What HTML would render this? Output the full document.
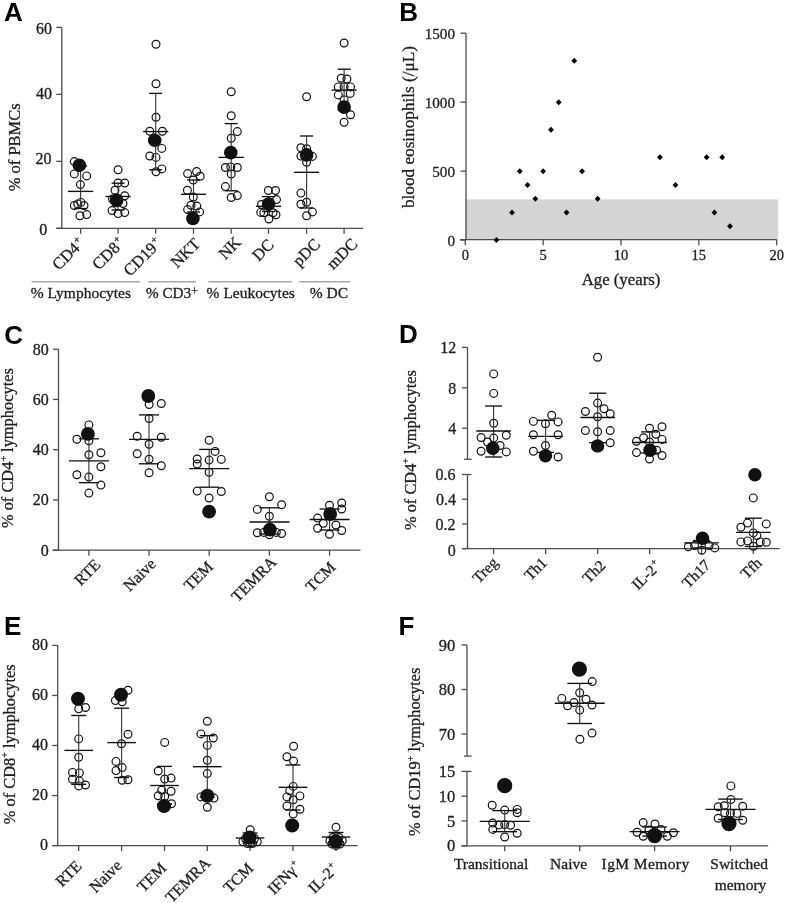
<!DOCTYPE html>
<html><head><meta charset="utf-8"><title>Figure</title>
<style>html,body{margin:0;padding:0;background:#fff;}svg{display:block;filter:blur(0.35px);}text.s{stroke:#1e1e1e;stroke-width:0.3px;}</style></head>
<body><svg width="785" height="903" viewBox="0 0 785 903">
<rect width="785" height="903" fill="#fff"/>
<text x="4.10" y="21.30" font-size="26" text-anchor="start" fill="#000" font-family='"Liberation Sans", sans-serif' font-weight="bold">A</text>
<line x1="61.80" y1="27.42" x2="61.80" y2="228.30" stroke="#4d4d4d" stroke-width="1.3"/>
<line x1="56.30" y1="27.42" x2="61.80" y2="27.42" stroke="#4d4d4d" stroke-width="1.3"/>
<text class="s" x="52.10" y="33.82" font-size="16" text-anchor="end" fill="#1e1e1e" font-family='"Liberation Serif", serif' font-weight="normal">60</text>
<line x1="56.30" y1="94.38" x2="61.80" y2="94.38" stroke="#4d4d4d" stroke-width="1.3"/>
<text class="s" x="52.10" y="99.48" font-size="16" text-anchor="end" fill="#1e1e1e" font-family='"Liberation Serif", serif' font-weight="normal">40</text>
<line x1="56.30" y1="161.34" x2="61.80" y2="161.34" stroke="#4d4d4d" stroke-width="1.3"/>
<text class="s" x="51.60" y="164.14" font-size="16" text-anchor="end" fill="#1e1e1e" font-family='"Liberation Serif", serif' font-weight="normal">20</text>
<line x1="56.30" y1="228.30" x2="61.80" y2="228.30" stroke="#4d4d4d" stroke-width="1.3"/>
<text class="s" x="47.30" y="235.20" font-size="16" text-anchor="end" fill="#1e1e1e" font-family='"Liberation Serif", serif' font-weight="normal">0</text>
<line x1="56.30" y1="228.30" x2="363.20" y2="228.30" stroke="#4d4d4d" stroke-width="1.3"/>
<line x1="80.60" y1="228.30" x2="80.60" y2="233.80" stroke="#4d4d4d" stroke-width="1.3"/>
<line x1="118.10" y1="228.30" x2="118.10" y2="233.80" stroke="#4d4d4d" stroke-width="1.3"/>
<line x1="155.70" y1="228.30" x2="155.70" y2="233.80" stroke="#4d4d4d" stroke-width="1.3"/>
<line x1="193.50" y1="228.30" x2="193.50" y2="233.80" stroke="#4d4d4d" stroke-width="1.3"/>
<line x1="231.20" y1="228.30" x2="231.20" y2="233.80" stroke="#4d4d4d" stroke-width="1.3"/>
<line x1="268.50" y1="228.30" x2="268.50" y2="233.80" stroke="#4d4d4d" stroke-width="1.3"/>
<line x1="306.60" y1="228.30" x2="306.60" y2="233.80" stroke="#4d4d4d" stroke-width="1.3"/>
<line x1="344.10" y1="228.30" x2="344.10" y2="233.80" stroke="#4d4d4d" stroke-width="1.3"/>
<text class="s" x="19.90" y="147.30" font-size="16.5" text-anchor="middle" fill="#1e1e1e" font-family='"Liberation Serif", serif' font-weight="normal" transform="rotate(-90 19.90 147.30)">% of PBMCs</text>
<circle cx="74.30" cy="161.60" r="3.9" fill="none" stroke="#111" stroke-width="1.2"/>
<circle cx="74.30" cy="173.90" r="3.9" fill="none" stroke="#111" stroke-width="1.2"/>
<circle cx="86.70" cy="175.90" r="3.9" fill="none" stroke="#111" stroke-width="1.2"/>
<circle cx="80.40" cy="184.60" r="3.9" fill="none" stroke="#111" stroke-width="1.2"/>
<circle cx="74.30" cy="205.50" r="3.9" fill="none" stroke="#111" stroke-width="1.2"/>
<circle cx="77.80" cy="203.90" r="3.9" fill="none" stroke="#111" stroke-width="1.2"/>
<circle cx="80.90" cy="202.40" r="3.9" fill="none" stroke="#111" stroke-width="1.2"/>
<circle cx="84.00" cy="205.50" r="3.9" fill="none" stroke="#111" stroke-width="1.2"/>
<circle cx="79.90" cy="215.70" r="3.9" fill="none" stroke="#111" stroke-width="1.2"/>
<circle cx="86.70" cy="214.60" r="3.9" fill="none" stroke="#111" stroke-width="1.2"/>
<line x1="80.60" y1="166.00" x2="80.60" y2="208.50" stroke="#3a3a3a" stroke-width="1.1475"/>
<line x1="74.10" y1="166.00" x2="87.10" y2="166.00" stroke="#111" stroke-width="1.35"/>
<line x1="74.10" y1="208.50" x2="87.10" y2="208.50" stroke="#111" stroke-width="1.35"/>
<line x1="68.00" y1="191.40" x2="93.20" y2="191.40" stroke="#111" stroke-width="1.35"/>
<circle cx="79.40" cy="165.20" r="6.8" fill="#111"/>
<circle cx="118.10" cy="169.80" r="3.9" fill="none" stroke="#111" stroke-width="1.2"/>
<circle cx="118.10" cy="183.00" r="3.9" fill="none" stroke="#111" stroke-width="1.2"/>
<circle cx="124.70" cy="183.00" r="3.9" fill="none" stroke="#111" stroke-width="1.2"/>
<circle cx="115.00" cy="190.20" r="3.9" fill="none" stroke="#111" stroke-width="1.2"/>
<circle cx="124.70" cy="195.80" r="3.9" fill="none" stroke="#111" stroke-width="1.2"/>
<circle cx="112.50" cy="199.00" r="3.9" fill="none" stroke="#111" stroke-width="1.2"/>
<circle cx="123.00" cy="203.50" r="3.9" fill="none" stroke="#111" stroke-width="1.2"/>
<circle cx="112.00" cy="210.60" r="3.9" fill="none" stroke="#111" stroke-width="1.2"/>
<circle cx="118.10" cy="213.60" r="3.9" fill="none" stroke="#111" stroke-width="1.2"/>
<circle cx="124.70" cy="212.60" r="3.9" fill="none" stroke="#111" stroke-width="1.2"/>
<line x1="118.10" y1="183.20" x2="118.10" y2="210.00" stroke="#3a3a3a" stroke-width="1.1475"/>
<line x1="111.60" y1="183.20" x2="124.60" y2="183.20" stroke="#111" stroke-width="1.35"/>
<line x1="111.60" y1="210.00" x2="124.60" y2="210.00" stroke="#111" stroke-width="1.35"/>
<line x1="105.50" y1="196.50" x2="130.70" y2="196.50" stroke="#111" stroke-width="1.35"/>
<circle cx="116.60" cy="200.40" r="6.8" fill="#111"/>
<circle cx="156.00" cy="44.20" r="3.9" fill="none" stroke="#111" stroke-width="1.2"/>
<circle cx="156.00" cy="83.80" r="3.9" fill="none" stroke="#111" stroke-width="1.2"/>
<circle cx="156.00" cy="117.30" r="3.9" fill="none" stroke="#111" stroke-width="1.2"/>
<circle cx="149.80" cy="131.20" r="3.9" fill="none" stroke="#111" stroke-width="1.2"/>
<circle cx="162.40" cy="131.20" r="3.9" fill="none" stroke="#111" stroke-width="1.2"/>
<circle cx="161.80" cy="148.40" r="3.9" fill="none" stroke="#111" stroke-width="1.2"/>
<circle cx="149.80" cy="156.00" r="3.9" fill="none" stroke="#111" stroke-width="1.2"/>
<circle cx="156.00" cy="157.40" r="3.9" fill="none" stroke="#111" stroke-width="1.2"/>
<circle cx="156.00" cy="171.70" r="3.9" fill="none" stroke="#111" stroke-width="1.2"/>
<circle cx="161.80" cy="168.90" r="3.9" fill="none" stroke="#111" stroke-width="1.2"/>
<line x1="155.70" y1="93.40" x2="155.70" y2="169.80" stroke="#3a3a3a" stroke-width="1.1475"/>
<line x1="149.20" y1="93.40" x2="162.20" y2="93.40" stroke="#111" stroke-width="1.35"/>
<line x1="149.20" y1="169.80" x2="162.20" y2="169.80" stroke="#111" stroke-width="1.35"/>
<line x1="143.10" y1="131.60" x2="168.30" y2="131.60" stroke="#111" stroke-width="1.35"/>
<circle cx="154.70" cy="140.20" r="6.8" fill="#111"/>
<circle cx="187.60" cy="173.60" r="3.9" fill="none" stroke="#111" stroke-width="1.2"/>
<circle cx="196.60" cy="171.50" r="3.9" fill="none" stroke="#111" stroke-width="1.2"/>
<circle cx="200.20" cy="176.20" r="3.9" fill="none" stroke="#111" stroke-width="1.2"/>
<circle cx="193.30" cy="180.10" r="3.9" fill="none" stroke="#111" stroke-width="1.2"/>
<circle cx="187.40" cy="190.20" r="3.9" fill="none" stroke="#111" stroke-width="1.2"/>
<circle cx="193.30" cy="197.00" r="3.9" fill="none" stroke="#111" stroke-width="1.2"/>
<circle cx="191.00" cy="205.20" r="3.9" fill="none" stroke="#111" stroke-width="1.2"/>
<circle cx="196.80" cy="206.10" r="3.9" fill="none" stroke="#111" stroke-width="1.2"/>
<circle cx="187.60" cy="209.60" r="3.9" fill="none" stroke="#111" stroke-width="1.2"/>
<circle cx="199.60" cy="211.90" r="3.9" fill="none" stroke="#111" stroke-width="1.2"/>
<line x1="193.50" y1="180.00" x2="193.50" y2="212.00" stroke="#3a3a3a" stroke-width="1.1475"/>
<line x1="187.00" y1="180.00" x2="200.00" y2="180.00" stroke="#111" stroke-width="1.35"/>
<line x1="187.00" y1="212.00" x2="200.00" y2="212.00" stroke="#111" stroke-width="1.35"/>
<line x1="180.90" y1="194.30" x2="206.10" y2="194.30" stroke="#111" stroke-width="1.35"/>
<circle cx="192.90" cy="218.50" r="6.8" fill="#111"/>
<circle cx="231.20" cy="91.80" r="3.9" fill="none" stroke="#111" stroke-width="1.2"/>
<circle cx="231.20" cy="115.70" r="3.9" fill="none" stroke="#111" stroke-width="1.2"/>
<circle cx="237.30" cy="131.60" r="3.9" fill="none" stroke="#111" stroke-width="1.2"/>
<circle cx="231.20" cy="138.30" r="3.9" fill="none" stroke="#111" stroke-width="1.2"/>
<circle cx="225.40" cy="167.50" r="3.9" fill="none" stroke="#111" stroke-width="1.2"/>
<circle cx="230.80" cy="166.90" r="3.9" fill="none" stroke="#111" stroke-width="1.2"/>
<circle cx="237.30" cy="167.50" r="3.9" fill="none" stroke="#111" stroke-width="1.2"/>
<circle cx="231.20" cy="174.00" r="3.9" fill="none" stroke="#111" stroke-width="1.2"/>
<circle cx="225.40" cy="186.60" r="3.9" fill="none" stroke="#111" stroke-width="1.2"/>
<circle cx="231.20" cy="197.50" r="3.9" fill="none" stroke="#111" stroke-width="1.2"/>
<circle cx="237.30" cy="195.60" r="3.9" fill="none" stroke="#111" stroke-width="1.2"/>
<line x1="231.20" y1="123.60" x2="231.20" y2="190.80" stroke="#3a3a3a" stroke-width="1.1475"/>
<line x1="224.70" y1="123.60" x2="237.70" y2="123.60" stroke="#111" stroke-width="1.35"/>
<line x1="224.70" y1="190.80" x2="237.70" y2="190.80" stroke="#111" stroke-width="1.35"/>
<line x1="218.60" y1="157.40" x2="243.80" y2="157.40" stroke="#111" stroke-width="1.35"/>
<circle cx="230.80" cy="152.60" r="6.8" fill="#111"/>
<circle cx="268.40" cy="190.50" r="3.9" fill="none" stroke="#111" stroke-width="1.2"/>
<circle cx="275.50" cy="190.50" r="3.9" fill="none" stroke="#111" stroke-width="1.2"/>
<circle cx="276.50" cy="199.60" r="3.9" fill="none" stroke="#111" stroke-width="1.2"/>
<circle cx="261.50" cy="204.50" r="3.9" fill="none" stroke="#111" stroke-width="1.2"/>
<circle cx="260.70" cy="212.40" r="3.9" fill="none" stroke="#111" stroke-width="1.2"/>
<circle cx="263.80" cy="212.70" r="3.9" fill="none" stroke="#111" stroke-width="1.2"/>
<circle cx="273.00" cy="212.70" r="3.9" fill="none" stroke="#111" stroke-width="1.2"/>
<circle cx="276.00" cy="214.70" r="3.9" fill="none" stroke="#111" stroke-width="1.2"/>
<circle cx="268.90" cy="219.00" r="3.9" fill="none" stroke="#111" stroke-width="1.2"/>
<line x1="268.50" y1="196.60" x2="268.50" y2="211.50" stroke="#3a3a3a" stroke-width="1.1475"/>
<line x1="262.00" y1="196.60" x2="275.00" y2="196.60" stroke="#111" stroke-width="1.35"/>
<line x1="262.00" y1="211.50" x2="275.00" y2="211.50" stroke="#111" stroke-width="1.35"/>
<line x1="255.90" y1="206.30" x2="281.10" y2="206.30" stroke="#111" stroke-width="1.35"/>
<circle cx="268.60" cy="204.00" r="6.8" fill="#111"/>
<circle cx="306.60" cy="96.80" r="3.9" fill="none" stroke="#111" stroke-width="1.2"/>
<circle cx="300.90" cy="147.80" r="3.9" fill="none" stroke="#111" stroke-width="1.2"/>
<circle cx="306.60" cy="148.80" r="3.9" fill="none" stroke="#111" stroke-width="1.2"/>
<circle cx="300.90" cy="156.10" r="3.9" fill="none" stroke="#111" stroke-width="1.2"/>
<circle cx="312.40" cy="156.40" r="3.9" fill="none" stroke="#111" stroke-width="1.2"/>
<circle cx="306.60" cy="162.20" r="3.9" fill="none" stroke="#111" stroke-width="1.2"/>
<circle cx="300.90" cy="193.10" r="3.9" fill="none" stroke="#111" stroke-width="1.2"/>
<circle cx="306.60" cy="202.30" r="3.9" fill="none" stroke="#111" stroke-width="1.2"/>
<circle cx="300.90" cy="204.20" r="3.9" fill="none" stroke="#111" stroke-width="1.2"/>
<circle cx="306.60" cy="215.70" r="3.9" fill="none" stroke="#111" stroke-width="1.2"/>
<circle cx="312.40" cy="211.90" r="3.9" fill="none" stroke="#111" stroke-width="1.2"/>
<line x1="306.60" y1="136.00" x2="306.60" y2="208.00" stroke="#3a3a3a" stroke-width="1.1475"/>
<line x1="300.10" y1="136.00" x2="313.10" y2="136.00" stroke="#111" stroke-width="1.35"/>
<line x1="300.10" y1="208.00" x2="313.10" y2="208.00" stroke="#111" stroke-width="1.35"/>
<line x1="294.00" y1="172.30" x2="319.20" y2="172.30" stroke="#111" stroke-width="1.35"/>
<circle cx="306.60" cy="154.90" r="6.8" fill="#111"/>
<circle cx="344.10" cy="43.00" r="3.9" fill="none" stroke="#111" stroke-width="1.2"/>
<circle cx="341.20" cy="78.30" r="3.9" fill="none" stroke="#111" stroke-width="1.2"/>
<circle cx="346.90" cy="79.00" r="3.9" fill="none" stroke="#111" stroke-width="1.2"/>
<circle cx="338.30" cy="86.90" r="3.9" fill="none" stroke="#111" stroke-width="1.2"/>
<circle cx="344.10" cy="86.90" r="3.9" fill="none" stroke="#111" stroke-width="1.2"/>
<circle cx="350.50" cy="86.90" r="3.9" fill="none" stroke="#111" stroke-width="1.2"/>
<circle cx="338.30" cy="94.90" r="3.9" fill="none" stroke="#111" stroke-width="1.2"/>
<circle cx="350.20" cy="93.40" r="3.9" fill="none" stroke="#111" stroke-width="1.2"/>
<circle cx="344.10" cy="99.90" r="3.9" fill="none" stroke="#111" stroke-width="1.2"/>
<circle cx="350.50" cy="114.70" r="3.9" fill="none" stroke="#111" stroke-width="1.2"/>
<circle cx="344.10" cy="122.20" r="3.9" fill="none" stroke="#111" stroke-width="1.2"/>
<line x1="344.10" y1="69.20" x2="344.10" y2="110.00" stroke="#3a3a3a" stroke-width="1.1475"/>
<line x1="337.60" y1="69.20" x2="350.60" y2="69.20" stroke="#111" stroke-width="1.35"/>
<line x1="337.60" y1="110.00" x2="350.60" y2="110.00" stroke="#111" stroke-width="1.35"/>
<line x1="331.50" y1="90.10" x2="356.70" y2="90.10" stroke="#111" stroke-width="1.35"/>
<circle cx="344.10" cy="107.10" r="6.8" fill="#111"/>
<g transform="translate(85.45,244.30)"><text class="s" x="0" y="0" font-size="16.5" text-anchor="end" fill="#1e1e1e" font-family='"Liberation Serif", serif' transform="rotate(-45)">CD4<tspan font-size="10.2" dx="1.0" dy="-6.3">+</tspan></text></g>
<g transform="translate(125.55,243.90)"><text class="s" x="0" y="0" font-size="16.5" text-anchor="end" fill="#1e1e1e" font-family='"Liberation Serif", serif' transform="rotate(-45)">CD8<tspan font-size="10.2" dx="1.0" dy="-6.3">+</tspan></text></g>
<g transform="translate(162.65,244.35)"><text class="s" x="0" y="0" font-size="16.5" text-anchor="end" fill="#1e1e1e" font-family='"Liberation Serif", serif' transform="rotate(-45)">CD19<tspan font-size="10.2" dx="1.0" dy="-6.3">+</tspan></text></g>
<g transform="translate(201.15,244.75)"><text class="s" x="0" y="0" font-size="16.5" text-anchor="end" fill="#1e1e1e" font-family='"Liberation Serif", serif' transform="rotate(-45)">NKT</text></g>
<g transform="translate(242.05,243.30)"><text class="s" x="0" y="0" font-size="16.5" text-anchor="end" fill="#1e1e1e" font-family='"Liberation Serif", serif' transform="rotate(-45)">NK</text></g>
<g transform="translate(274.90,245.70)"><text class="s" x="0" y="0" font-size="16.5" text-anchor="end" fill="#1e1e1e" font-family='"Liberation Serif", serif' transform="rotate(-45)">DC</text></g>
<g transform="translate(321.25,245.15)"><text class="s" x="0" y="0" font-size="16.5" text-anchor="end" fill="#1e1e1e" font-family='"Liberation Serif", serif' transform="rotate(-45)">pDC</text></g>
<g transform="translate(358.55,244.90)"><text class="s" x="0" y="0" font-size="16.5" text-anchor="end" fill="#1e1e1e" font-family='"Liberation Serif", serif' transform="rotate(-45)">mDC</text></g>
<line x1="31.50" y1="281.80" x2="139.70" y2="281.80" stroke="#a8a8a8" stroke-width="1.4"/>
<line x1="148.20" y1="281.80" x2="195.80" y2="281.80" stroke="#a8a8a8" stroke-width="1.4"/>
<line x1="208.30" y1="281.80" x2="291.90" y2="281.80" stroke="#a8a8a8" stroke-width="1.4"/>
<line x1="299.00" y1="281.80" x2="350.50" y2="281.80" stroke="#a8a8a8" stroke-width="1.4"/>
<text class="s" x="30.7" y="297.5" font-size="15.5" fill="#1e1e1e" font-family='"Liberation Serif", serif'>% Lymphocytes</text>
<text class="s" x="146.0" y="297.5" font-size="15.2" fill="#1e1e1e" font-family='"Liberation Serif", serif'>% CD3<tspan font-size="11.5" dy="-3">+</tspan></text>
<text class="s" x="206.6" y="297.5" font-size="15.5" fill="#1e1e1e" font-family='"Liberation Serif", serif'>% Leukocytes</text>
<text class="s" x="309.7" y="297.5" font-size="15.5" fill="#1e1e1e" font-family='"Liberation Serif", serif'>% DC</text>
<text x="399.20" y="21.30" font-size="26" text-anchor="start" fill="#000" font-family='"Liberation Sans", sans-serif' font-weight="bold">B</text>
<rect x="465.30" y="199.4" width="312.90" height="40.30" fill="#d4d4d4"/>
<line x1="466.00" y1="33.21" x2="466.00" y2="240.10" stroke="#4d4d4d" stroke-width="1.3"/>
<line x1="460.50" y1="33.21" x2="466.00" y2="33.21" stroke="#4d4d4d" stroke-width="1.3"/>
<text class="s" x="455.00" y="38.61" font-size="15.2" text-anchor="end" fill="#1e1e1e" font-family='"Liberation Serif", serif' font-weight="normal">1500</text>
<line x1="460.50" y1="102.17" x2="466.00" y2="102.17" stroke="#4d4d4d" stroke-width="1.3"/>
<text class="s" x="455.00" y="107.57" font-size="15.2" text-anchor="end" fill="#1e1e1e" font-family='"Liberation Serif", serif' font-weight="normal">1000</text>
<line x1="460.50" y1="171.13" x2="466.00" y2="171.13" stroke="#4d4d4d" stroke-width="1.3"/>
<text class="s" x="455.00" y="176.53" font-size="15.2" text-anchor="end" fill="#1e1e1e" font-family='"Liberation Serif", serif' font-weight="normal">500</text>
<line x1="460.50" y1="240.10" x2="466.00" y2="240.10" stroke="#4d4d4d" stroke-width="1.3"/>
<text class="s" x="455.00" y="245.50" font-size="15.2" text-anchor="end" fill="#1e1e1e" font-family='"Liberation Serif", serif' font-weight="normal">0</text>
<line x1="460.00" y1="239.70" x2="776.70" y2="239.70" stroke="#4d4d4d" stroke-width="1.3"/>
<line x1="465.30" y1="239.70" x2="465.30" y2="245.20" stroke="#4d4d4d" stroke-width="1.3"/>
<line x1="543.15" y1="239.70" x2="543.15" y2="245.20" stroke="#4d4d4d" stroke-width="1.3"/>
<line x1="621.00" y1="239.70" x2="621.00" y2="245.20" stroke="#4d4d4d" stroke-width="1.3"/>
<line x1="698.85" y1="239.70" x2="698.85" y2="245.20" stroke="#4d4d4d" stroke-width="1.3"/>
<line x1="776.70" y1="239.70" x2="776.70" y2="245.20" stroke="#4d4d4d" stroke-width="1.3"/>
<text class="s" x="465.30" y="260.20" font-size="14.5" text-anchor="middle" fill="#1e1e1e" font-family='"Liberation Serif", serif' font-weight="normal">0</text>
<text class="s" x="543.15" y="260.20" font-size="14.5" text-anchor="middle" fill="#1e1e1e" font-family='"Liberation Serif", serif' font-weight="normal">5</text>
<text class="s" x="621.00" y="260.20" font-size="14.5" text-anchor="middle" fill="#1e1e1e" font-family='"Liberation Serif", serif' font-weight="normal">10</text>
<text class="s" x="698.85" y="260.20" font-size="14.5" text-anchor="middle" fill="#1e1e1e" font-family='"Liberation Serif", serif' font-weight="normal">15</text>
<text class="s" x="776.70" y="260.20" font-size="14.5" text-anchor="middle" fill="#1e1e1e" font-family='"Liberation Serif", serif' font-weight="normal">20</text>
<text class="s" x="621.00" y="284.50" font-size="16.8" text-anchor="middle" fill="#1e1e1e" font-family='"Liberation Serif", serif' font-weight="normal">Age (years)</text>
<text class="s" x="413.50" y="127.00" font-size="17.2" text-anchor="middle" fill="#1e1e1e" font-family='"Liberation Serif", serif' font-weight="normal" transform="rotate(-90 413.50 127.00)">blood eosinophils (/&#956;L)</text>
<path d="M496.44 237.10L499.34 240.10L496.44 243.10L493.54 240.10Z" fill="#000"/>
<path d="M512.01 209.51L514.91 212.51L512.01 215.51L509.11 212.51Z" fill="#000"/>
<path d="M519.80 168.13L522.70 171.13L519.80 174.13L516.90 171.13Z" fill="#000"/>
<path d="M527.58 181.93L530.48 184.93L527.58 187.93L524.68 184.93Z" fill="#000"/>
<path d="M535.37 195.72L538.26 198.72L535.37 201.72L532.47 198.72Z" fill="#000"/>
<path d="M543.15 168.13L546.05 171.13L543.15 174.13L540.25 171.13Z" fill="#000"/>
<path d="M550.94 126.76L553.84 129.76L550.94 132.76L548.04 129.76Z" fill="#000"/>
<path d="M558.72 99.17L561.62 102.17L558.72 105.17L555.82 102.17Z" fill="#000"/>
<path d="M566.50 209.51L569.40 212.51L566.50 215.51L563.61 212.51Z" fill="#000"/>
<path d="M574.29 57.79L577.19 60.79L574.29 63.79L571.39 60.79Z" fill="#000"/>
<path d="M582.08 168.13L584.98 171.13L582.08 174.13L579.18 171.13Z" fill="#000"/>
<path d="M597.64 195.72L600.54 198.72L597.64 201.72L594.75 198.72Z" fill="#000"/>
<path d="M659.92 154.34L662.82 157.34L659.92 160.34L657.02 157.34Z" fill="#000"/>
<path d="M675.50 181.93L678.39 184.93L675.50 187.93L672.60 184.93Z" fill="#000"/>
<path d="M706.63 154.34L709.53 157.34L706.63 160.34L703.74 157.34Z" fill="#000"/>
<path d="M714.42 209.51L717.32 212.51L714.42 215.51L711.52 212.51Z" fill="#000"/>
<path d="M722.21 154.34L725.11 157.34L722.21 160.34L719.31 157.34Z" fill="#000"/>
<path d="M729.99 223.31L732.89 226.31L729.99 229.31L727.09 226.31Z" fill="#000"/>
<text x="4.30" y="344.00" font-size="26" text-anchor="start" fill="#000" font-family='"Liberation Sans", sans-serif' font-weight="bold">C</text>
<line x1="58.50" y1="349.20" x2="58.50" y2="550.20" stroke="#4d4d4d" stroke-width="1.3"/>
<line x1="53.00" y1="349.20" x2="58.50" y2="349.20" stroke="#4d4d4d" stroke-width="1.3"/>
<text class="s" x="48.80" y="354.60" font-size="16" text-anchor="end" fill="#1e1e1e" font-family='"Liberation Serif", serif' font-weight="normal">80</text>
<line x1="53.00" y1="399.45" x2="58.50" y2="399.45" stroke="#4d4d4d" stroke-width="1.3"/>
<text class="s" x="48.80" y="404.85" font-size="16" text-anchor="end" fill="#1e1e1e" font-family='"Liberation Serif", serif' font-weight="normal">60</text>
<line x1="53.00" y1="449.70" x2="58.50" y2="449.70" stroke="#4d4d4d" stroke-width="1.3"/>
<text class="s" x="48.80" y="455.10" font-size="16" text-anchor="end" fill="#1e1e1e" font-family='"Liberation Serif", serif' font-weight="normal">40</text>
<line x1="53.00" y1="499.95" x2="58.50" y2="499.95" stroke="#4d4d4d" stroke-width="1.3"/>
<text class="s" x="48.80" y="505.35" font-size="16" text-anchor="end" fill="#1e1e1e" font-family='"Liberation Serif", serif' font-weight="normal">20</text>
<line x1="53.00" y1="550.20" x2="58.50" y2="550.20" stroke="#4d4d4d" stroke-width="1.3"/>
<text class="s" x="48.80" y="555.60" font-size="16" text-anchor="end" fill="#1e1e1e" font-family='"Liberation Serif", serif' font-weight="normal">0</text>
<line x1="52.80" y1="550.20" x2="360.50" y2="550.20" stroke="#4d4d4d" stroke-width="1.3"/>
<line x1="88.90" y1="550.20" x2="88.90" y2="555.70" stroke="#4d4d4d" stroke-width="1.3"/>
<line x1="149.00" y1="550.20" x2="149.00" y2="555.70" stroke="#4d4d4d" stroke-width="1.3"/>
<line x1="209.20" y1="550.20" x2="209.20" y2="555.70" stroke="#4d4d4d" stroke-width="1.3"/>
<line x1="269.40" y1="550.20" x2="269.40" y2="555.70" stroke="#4d4d4d" stroke-width="1.3"/>
<line x1="329.60" y1="550.20" x2="329.60" y2="555.70" stroke="#4d4d4d" stroke-width="1.3"/>
<text class="s" x="13.30" y="448.10" font-size="16.4" text-anchor="middle" fill="#1e1e1e" font-family='"Liberation Serif", serif' transform="rotate(-90 13.30 448.10)">% of CD4<tspan font-size="10" dy="-6.5">+</tspan><tspan dy="6.5"> lymphocytes</tspan></text>
<circle cx="88.90" cy="424.90" r="3.9" fill="none" stroke="#111" stroke-width="1.2"/>
<circle cx="76.90" cy="439.20" r="3.9" fill="none" stroke="#111" stroke-width="1.2"/>
<circle cx="88.90" cy="440.80" r="3.9" fill="none" stroke="#111" stroke-width="1.2"/>
<circle cx="88.90" cy="454.80" r="3.9" fill="none" stroke="#111" stroke-width="1.2"/>
<circle cx="100.90" cy="452.80" r="3.9" fill="none" stroke="#111" stroke-width="1.2"/>
<circle cx="100.90" cy="466.80" r="3.9" fill="none" stroke="#111" stroke-width="1.2"/>
<circle cx="76.90" cy="474.80" r="3.9" fill="none" stroke="#111" stroke-width="1.2"/>
<circle cx="88.90" cy="477.10" r="3.9" fill="none" stroke="#111" stroke-width="1.2"/>
<circle cx="100.90" cy="485.10" r="3.9" fill="none" stroke="#111" stroke-width="1.2"/>
<circle cx="88.90" cy="493.10" r="3.9" fill="none" stroke="#111" stroke-width="1.2"/>
<line x1="88.90" y1="438.80" x2="88.90" y2="482.70" stroke="#3a3a3a" stroke-width="1.1475"/>
<line x1="78.90" y1="438.80" x2="98.90" y2="438.80" stroke="#111" stroke-width="1.35"/>
<line x1="78.90" y1="482.70" x2="98.90" y2="482.70" stroke="#111" stroke-width="1.35"/>
<line x1="68.90" y1="460.80" x2="108.90" y2="460.80" stroke="#111" stroke-width="1.35"/>
<circle cx="87.90" cy="433.90" r="6.9" fill="#111"/>
<circle cx="149.10" cy="404.50" r="3.9" fill="none" stroke="#111" stroke-width="1.2"/>
<circle cx="161.30" cy="403.50" r="3.9" fill="none" stroke="#111" stroke-width="1.2"/>
<circle cx="149.10" cy="418.50" r="3.9" fill="none" stroke="#111" stroke-width="1.2"/>
<circle cx="137.20" cy="436.30" r="3.9" fill="none" stroke="#111" stroke-width="1.2"/>
<circle cx="161.30" cy="437.30" r="3.9" fill="none" stroke="#111" stroke-width="1.2"/>
<circle cx="149.10" cy="444.20" r="3.9" fill="none" stroke="#111" stroke-width="1.2"/>
<circle cx="137.20" cy="453.80" r="3.9" fill="none" stroke="#111" stroke-width="1.2"/>
<circle cx="149.10" cy="459.20" r="3.9" fill="none" stroke="#111" stroke-width="1.2"/>
<circle cx="161.30" cy="465.80" r="3.9" fill="none" stroke="#111" stroke-width="1.2"/>
<circle cx="149.10" cy="472.80" r="3.9" fill="none" stroke="#111" stroke-width="1.2"/>
<line x1="149.00" y1="414.90" x2="149.00" y2="463.80" stroke="#3a3a3a" stroke-width="1.1475"/>
<line x1="139.00" y1="414.90" x2="159.00" y2="414.90" stroke="#111" stroke-width="1.35"/>
<line x1="139.00" y1="463.80" x2="159.00" y2="463.80" stroke="#111" stroke-width="1.35"/>
<line x1="129.00" y1="439.40" x2="169.00" y2="439.40" stroke="#111" stroke-width="1.35"/>
<circle cx="148.30" cy="396.00" r="6.9" fill="#111"/>
<circle cx="209.10" cy="440.20" r="3.9" fill="none" stroke="#111" stroke-width="1.2"/>
<circle cx="215.10" cy="451.40" r="3.9" fill="none" stroke="#111" stroke-width="1.2"/>
<circle cx="197.20" cy="459.00" r="3.9" fill="none" stroke="#111" stroke-width="1.2"/>
<circle cx="209.10" cy="460.10" r="3.9" fill="none" stroke="#111" stroke-width="1.2"/>
<circle cx="221.30" cy="459.40" r="3.9" fill="none" stroke="#111" stroke-width="1.2"/>
<circle cx="197.20" cy="464.00" r="3.9" fill="none" stroke="#111" stroke-width="1.2"/>
<circle cx="209.10" cy="472.30" r="3.9" fill="none" stroke="#111" stroke-width="1.2"/>
<circle cx="197.20" cy="491.10" r="3.9" fill="none" stroke="#111" stroke-width="1.2"/>
<circle cx="221.30" cy="491.50" r="3.9" fill="none" stroke="#111" stroke-width="1.2"/>
<circle cx="209.10" cy="498.00" r="3.9" fill="none" stroke="#111" stroke-width="1.2"/>
<line x1="209.20" y1="449.40" x2="209.20" y2="487.20" stroke="#3a3a3a" stroke-width="1.1475"/>
<line x1="199.20" y1="449.40" x2="219.20" y2="449.40" stroke="#111" stroke-width="1.35"/>
<line x1="199.20" y1="487.20" x2="219.20" y2="487.20" stroke="#111" stroke-width="1.35"/>
<line x1="189.20" y1="468.60" x2="229.20" y2="468.60" stroke="#111" stroke-width="1.35"/>
<circle cx="209.10" cy="511.70" r="6.9" fill="#111"/>
<circle cx="269.40" cy="496.80" r="3.9" fill="none" stroke="#111" stroke-width="1.2"/>
<circle cx="257.30" cy="509.40" r="3.9" fill="none" stroke="#111" stroke-width="1.2"/>
<circle cx="281.60" cy="504.80" r="3.9" fill="none" stroke="#111" stroke-width="1.2"/>
<circle cx="269.40" cy="516.30" r="3.9" fill="none" stroke="#111" stroke-width="1.2"/>
<circle cx="257.30" cy="532.80" r="3.9" fill="none" stroke="#111" stroke-width="1.2"/>
<circle cx="263.70" cy="532.40" r="3.9" fill="none" stroke="#111" stroke-width="1.2"/>
<circle cx="276.30" cy="532.40" r="3.9" fill="none" stroke="#111" stroke-width="1.2"/>
<circle cx="281.60" cy="533.50" r="3.9" fill="none" stroke="#111" stroke-width="1.2"/>
<circle cx="269.40" cy="534.70" r="3.9" fill="none" stroke="#111" stroke-width="1.2"/>
<line x1="269.40" y1="507.80" x2="269.40" y2="534.00" stroke="#3a3a3a" stroke-width="1.1475"/>
<line x1="259.40" y1="507.80" x2="279.40" y2="507.80" stroke="#111" stroke-width="1.35"/>
<line x1="259.40" y1="534.00" x2="279.40" y2="534.00" stroke="#111" stroke-width="1.35"/>
<line x1="249.40" y1="522.00" x2="289.40" y2="522.00" stroke="#111" stroke-width="1.35"/>
<circle cx="269.90" cy="529.60" r="6.9" fill="#111"/>
<circle cx="329.50" cy="505.30" r="3.9" fill="none" stroke="#111" stroke-width="1.2"/>
<circle cx="341.70" cy="503.00" r="3.9" fill="none" stroke="#111" stroke-width="1.2"/>
<circle cx="341.70" cy="509.00" r="3.9" fill="none" stroke="#111" stroke-width="1.2"/>
<circle cx="317.60" cy="518.10" r="3.9" fill="none" stroke="#111" stroke-width="1.2"/>
<circle cx="323.30" cy="523.20" r="3.9" fill="none" stroke="#111" stroke-width="1.2"/>
<circle cx="335.90" cy="525.00" r="3.9" fill="none" stroke="#111" stroke-width="1.2"/>
<circle cx="317.60" cy="528.20" r="3.9" fill="none" stroke="#111" stroke-width="1.2"/>
<circle cx="341.70" cy="530.50" r="3.9" fill="none" stroke="#111" stroke-width="1.2"/>
<circle cx="329.50" cy="534.20" r="3.9" fill="none" stroke="#111" stroke-width="1.2"/>
<line x1="329.60" y1="509.00" x2="329.60" y2="530.00" stroke="#3a3a3a" stroke-width="1.1475"/>
<line x1="319.60" y1="509.00" x2="339.60" y2="509.00" stroke="#111" stroke-width="1.35"/>
<line x1="319.60" y1="530.00" x2="339.60" y2="530.00" stroke="#111" stroke-width="1.35"/>
<line x1="309.60" y1="519.50" x2="349.60" y2="519.50" stroke="#111" stroke-width="1.35"/>
<circle cx="330.20" cy="514.00" r="6.9" fill="#111"/>
<g transform="translate(101.50,565.70)"><text class="s" x="0" y="0" font-size="16" text-anchor="end" fill="#1e1e1e" font-family='"Liberation Serif", serif' transform="rotate(-45)">RTE</text></g>
<g transform="translate(156.75,564.90)"><text class="s" x="0" y="0" font-size="16" text-anchor="end" fill="#1e1e1e" font-family='"Liberation Serif", serif' transform="rotate(-45)">Naive</text></g>
<g transform="translate(214.10,567.65)"><text class="s" x="0" y="0" font-size="16" text-anchor="end" fill="#1e1e1e" font-family='"Liberation Serif", serif' transform="rotate(-45)">TEM</text></g>
<g transform="translate(277.35,563.15)"><text class="s" x="0" y="0" font-size="16" text-anchor="end" fill="#1e1e1e" font-family='"Liberation Serif", serif' transform="rotate(-45)">TEMRA</text></g>
<g transform="translate(336.50,568.15)"><text class="s" x="0" y="0" font-size="16" text-anchor="end" fill="#1e1e1e" font-family='"Liberation Serif", serif' transform="rotate(-45)">TCM</text></g>
<text x="398.90" y="343.20" font-size="26" text-anchor="start" fill="#000" font-family='"Liberation Sans", sans-serif' font-weight="bold">D</text>
<line x1="467.50" y1="347.40" x2="467.50" y2="459.30" stroke="#4d4d4d" stroke-width="1.3"/>
<line x1="462.00" y1="347.40" x2="467.50" y2="347.40" stroke="#4d4d4d" stroke-width="1.3"/>
<text class="s" x="456.20" y="353.40" font-size="16" text-anchor="end" fill="#1e1e1e" font-family='"Liberation Serif", serif' font-weight="normal">12</text>
<line x1="462.00" y1="387.80" x2="467.50" y2="387.80" stroke="#4d4d4d" stroke-width="1.3"/>
<text class="s" x="456.20" y="393.80" font-size="16" text-anchor="end" fill="#1e1e1e" font-family='"Liberation Serif", serif' font-weight="normal">8</text>
<line x1="462.00" y1="428.20" x2="467.50" y2="428.20" stroke="#4d4d4d" stroke-width="1.3"/>
<text class="s" x="456.20" y="434.20" font-size="16" text-anchor="end" fill="#1e1e1e" font-family='"Liberation Serif", serif' font-weight="normal">4</text>
<line x1="464.10" y1="459.30" x2="471.70" y2="459.30" stroke="#4d4d4d" stroke-width="1.3"/>
<line x1="467.50" y1="474.50" x2="467.50" y2="548.60" stroke="#4d4d4d" stroke-width="1.3"/>
<line x1="462.00" y1="474.50" x2="467.50" y2="474.50" stroke="#4d4d4d" stroke-width="1.3"/>
<text class="s" x="455.50" y="480.10" font-size="16" text-anchor="end" fill="#1e1e1e" font-family='"Liberation Serif", serif' font-weight="normal">0.6</text>
<line x1="462.00" y1="499.20" x2="467.50" y2="499.20" stroke="#4d4d4d" stroke-width="1.3"/>
<text class="s" x="456.00" y="504.80" font-size="16" text-anchor="end" fill="#1e1e1e" font-family='"Liberation Serif", serif' font-weight="normal">0.4</text>
<line x1="462.00" y1="523.90" x2="467.50" y2="523.90" stroke="#4d4d4d" stroke-width="1.3"/>
<text class="s" x="455.50" y="529.80" font-size="16" text-anchor="end" fill="#1e1e1e" font-family='"Liberation Serif", serif' font-weight="normal">0.2</text>
<line x1="462.00" y1="548.60" x2="467.50" y2="548.60" stroke="#4d4d4d" stroke-width="1.3"/>
<text class="s" x="455.70" y="556.20" font-size="16" text-anchor="end" fill="#1e1e1e" font-family='"Liberation Serif", serif' font-weight="normal">0</text>
<line x1="467.50" y1="474.50" x2="471.50" y2="474.50" stroke="#4d4d4d" stroke-width="1.3"/>
<line x1="462.00" y1="548.60" x2="779.70" y2="548.60" stroke="#4d4d4d" stroke-width="1.3"/>
<line x1="493.60" y1="548.60" x2="493.60" y2="554.10" stroke="#4d4d4d" stroke-width="1.3"/>
<line x1="545.60" y1="548.60" x2="545.60" y2="554.10" stroke="#4d4d4d" stroke-width="1.3"/>
<line x1="597.70" y1="548.60" x2="597.70" y2="554.10" stroke="#4d4d4d" stroke-width="1.3"/>
<line x1="649.60" y1="548.60" x2="649.60" y2="554.10" stroke="#4d4d4d" stroke-width="1.3"/>
<line x1="701.50" y1="548.60" x2="701.50" y2="554.10" stroke="#4d4d4d" stroke-width="1.3"/>
<line x1="753.30" y1="548.60" x2="753.30" y2="554.10" stroke="#4d4d4d" stroke-width="1.3"/>
<text class="s" x="415.60" y="450.10" font-size="16.4" text-anchor="middle" fill="#1e1e1e" font-family='"Liberation Serif", serif' transform="rotate(-90 415.60 450.10)">% of CD4<tspan font-size="10" dy="-6.5">+</tspan><tspan dy="6.5"> lymphocytes</tspan></text>
<circle cx="493.70" cy="373.90" r="3.9" fill="none" stroke="#111" stroke-width="1.2"/>
<circle cx="493.70" cy="393.40" r="3.9" fill="none" stroke="#111" stroke-width="1.2"/>
<circle cx="493.70" cy="423.20" r="3.9" fill="none" stroke="#111" stroke-width="1.2"/>
<circle cx="481.10" cy="437.50" r="3.9" fill="none" stroke="#111" stroke-width="1.2"/>
<circle cx="493.70" cy="438.10" r="3.9" fill="none" stroke="#111" stroke-width="1.2"/>
<circle cx="506.30" cy="435.20" r="3.9" fill="none" stroke="#111" stroke-width="1.2"/>
<circle cx="487.50" cy="442.00" r="3.9" fill="none" stroke="#111" stroke-width="1.2"/>
<circle cx="500.10" cy="445.50" r="3.9" fill="none" stroke="#111" stroke-width="1.2"/>
<circle cx="481.10" cy="451.20" r="3.9" fill="none" stroke="#111" stroke-width="1.2"/>
<circle cx="506.30" cy="451.90" r="3.9" fill="none" stroke="#111" stroke-width="1.2"/>
<line x1="493.60" y1="406.00" x2="493.60" y2="457.00" stroke="#3a3a3a" stroke-width="1.1475"/>
<line x1="485.10" y1="406.00" x2="502.10" y2="406.00" stroke="#111" stroke-width="1.35"/>
<line x1="485.10" y1="457.00" x2="502.10" y2="457.00" stroke="#111" stroke-width="1.35"/>
<line x1="476.30" y1="431.00" x2="510.90" y2="431.00" stroke="#111" stroke-width="1.35"/>
<circle cx="492.80" cy="448.20" r="6.7" fill="#111"/>
<circle cx="551.70" cy="415.20" r="3.9" fill="none" stroke="#111" stroke-width="1.2"/>
<circle cx="533.40" cy="421.40" r="3.9" fill="none" stroke="#111" stroke-width="1.2"/>
<circle cx="545.50" cy="423.70" r="3.9" fill="none" stroke="#111" stroke-width="1.2"/>
<circle cx="558.10" cy="421.90" r="3.9" fill="none" stroke="#111" stroke-width="1.2"/>
<circle cx="533.40" cy="434.70" r="3.9" fill="none" stroke="#111" stroke-width="1.2"/>
<circle cx="558.10" cy="434.70" r="3.9" fill="none" stroke="#111" stroke-width="1.2"/>
<circle cx="545.50" cy="445.50" r="3.9" fill="none" stroke="#111" stroke-width="1.2"/>
<circle cx="533.40" cy="451.20" r="3.9" fill="none" stroke="#111" stroke-width="1.2"/>
<circle cx="558.10" cy="457.00" r="3.9" fill="none" stroke="#111" stroke-width="1.2"/>
<line x1="545.60" y1="420.30" x2="545.60" y2="452.40" stroke="#3a3a3a" stroke-width="1.1475"/>
<line x1="537.10" y1="420.30" x2="554.10" y2="420.30" stroke="#111" stroke-width="1.35"/>
<line x1="537.10" y1="452.40" x2="554.10" y2="452.40" stroke="#111" stroke-width="1.35"/>
<line x1="528.30" y1="436.30" x2="562.90" y2="436.30" stroke="#111" stroke-width="1.35"/>
<circle cx="545.50" cy="455.80" r="6.7" fill="#111"/>
<circle cx="597.60" cy="357.20" r="3.9" fill="none" stroke="#111" stroke-width="1.2"/>
<circle cx="597.60" cy="403.10" r="3.9" fill="none" stroke="#111" stroke-width="1.2"/>
<circle cx="604.00" cy="408.80" r="3.9" fill="none" stroke="#111" stroke-width="1.2"/>
<circle cx="585.40" cy="411.50" r="3.9" fill="none" stroke="#111" stroke-width="1.2"/>
<circle cx="610.20" cy="413.80" r="3.9" fill="none" stroke="#111" stroke-width="1.2"/>
<circle cx="597.60" cy="416.80" r="3.9" fill="none" stroke="#111" stroke-width="1.2"/>
<circle cx="585.40" cy="430.60" r="3.9" fill="none" stroke="#111" stroke-width="1.2"/>
<circle cx="597.60" cy="431.70" r="3.9" fill="none" stroke="#111" stroke-width="1.2"/>
<circle cx="610.20" cy="430.60" r="3.9" fill="none" stroke="#111" stroke-width="1.2"/>
<circle cx="610.20" cy="442.70" r="3.9" fill="none" stroke="#111" stroke-width="1.2"/>
<line x1="597.70" y1="393.20" x2="597.70" y2="442.70" stroke="#3a3a3a" stroke-width="1.1475"/>
<line x1="589.20" y1="393.20" x2="606.20" y2="393.20" stroke="#111" stroke-width="1.35"/>
<line x1="589.20" y1="442.70" x2="606.20" y2="442.70" stroke="#111" stroke-width="1.35"/>
<line x1="580.40" y1="417.50" x2="615.00" y2="417.50" stroke="#111" stroke-width="1.35"/>
<circle cx="597.60" cy="445.90" r="6.7" fill="#111"/>
<circle cx="649.50" cy="428.30" r="3.9" fill="none" stroke="#111" stroke-width="1.2"/>
<circle cx="662.00" cy="426.70" r="3.9" fill="none" stroke="#111" stroke-width="1.2"/>
<circle cx="655.90" cy="434.20" r="3.9" fill="none" stroke="#111" stroke-width="1.2"/>
<circle cx="643.60" cy="437.80" r="3.9" fill="none" stroke="#111" stroke-width="1.2"/>
<circle cx="662.00" cy="439.40" r="3.9" fill="none" stroke="#111" stroke-width="1.2"/>
<circle cx="636.50" cy="441.30" r="3.9" fill="none" stroke="#111" stroke-width="1.2"/>
<circle cx="649.50" cy="442.00" r="3.9" fill="none" stroke="#111" stroke-width="1.2"/>
<circle cx="636.50" cy="452.60" r="3.9" fill="none" stroke="#111" stroke-width="1.2"/>
<circle cx="656.60" cy="450.30" r="3.9" fill="none" stroke="#111" stroke-width="1.2"/>
<circle cx="662.00" cy="455.50" r="3.9" fill="none" stroke="#111" stroke-width="1.2"/>
<circle cx="649.50" cy="459.00" r="3.9" fill="none" stroke="#111" stroke-width="1.2"/>
<line x1="649.60" y1="431.90" x2="649.60" y2="453.00" stroke="#3a3a3a" stroke-width="1.1475"/>
<line x1="641.10" y1="431.90" x2="658.10" y2="431.90" stroke="#111" stroke-width="1.35"/>
<line x1="641.10" y1="453.00" x2="658.10" y2="453.00" stroke="#111" stroke-width="1.35"/>
<line x1="632.30" y1="442.50" x2="666.90" y2="442.50" stroke="#111" stroke-width="1.35"/>
<circle cx="650.00" cy="450.30" r="6.7" fill="#111"/>
<circle cx="688.40" cy="546.80" r="3.9" fill="none" stroke="#111" stroke-width="1.2"/>
<circle cx="694.50" cy="545.60" r="3.9" fill="none" stroke="#111" stroke-width="1.2"/>
<circle cx="701.80" cy="550.20" r="3.9" fill="none" stroke="#111" stroke-width="1.2"/>
<circle cx="709.00" cy="545.60" r="3.9" fill="none" stroke="#111" stroke-width="1.2"/>
<circle cx="714.80" cy="547.90" r="3.9" fill="none" stroke="#111" stroke-width="1.2"/>
<line x1="701.50" y1="540.50" x2="701.50" y2="548.00" stroke="#3a3a3a" stroke-width="1.1475"/>
<line x1="693.00" y1="540.50" x2="710.00" y2="540.50" stroke="#111" stroke-width="1.35"/>
<line x1="693.00" y1="548.00" x2="710.00" y2="548.00" stroke="#111" stroke-width="1.35"/>
<line x1="684.20" y1="542.90" x2="718.80" y2="542.90" stroke="#111" stroke-width="1.35"/>
<circle cx="702.50" cy="538.30" r="6.7" fill="#111"/>
<circle cx="753.30" cy="497.90" r="3.9" fill="none" stroke="#111" stroke-width="1.2"/>
<circle cx="747.50" cy="523.10" r="3.9" fill="none" stroke="#111" stroke-width="1.2"/>
<circle cx="766.30" cy="523.90" r="3.9" fill="none" stroke="#111" stroke-width="1.2"/>
<circle cx="740.90" cy="527.30" r="3.9" fill="none" stroke="#111" stroke-width="1.2"/>
<circle cx="753.30" cy="532.90" r="3.9" fill="none" stroke="#111" stroke-width="1.2"/>
<circle cx="756.90" cy="535.60" r="3.9" fill="none" stroke="#111" stroke-width="1.2"/>
<circle cx="740.90" cy="541.90" r="3.9" fill="none" stroke="#111" stroke-width="1.2"/>
<circle cx="747.50" cy="540.90" r="3.9" fill="none" stroke="#111" stroke-width="1.2"/>
<circle cx="760.30" cy="541.90" r="3.9" fill="none" stroke="#111" stroke-width="1.2"/>
<circle cx="766.30" cy="542.30" r="3.9" fill="none" stroke="#111" stroke-width="1.2"/>
<circle cx="753.30" cy="546.30" r="3.9" fill="none" stroke="#111" stroke-width="1.2"/>
<line x1="753.30" y1="518.20" x2="753.30" y2="546.50" stroke="#3a3a3a" stroke-width="1.1475"/>
<line x1="744.80" y1="518.20" x2="761.80" y2="518.20" stroke="#111" stroke-width="1.35"/>
<line x1="744.80" y1="546.50" x2="761.80" y2="546.50" stroke="#111" stroke-width="1.35"/>
<line x1="736.00" y1="532.40" x2="770.60" y2="532.40" stroke="#111" stroke-width="1.35"/>
<circle cx="754.90" cy="474.70" r="6.7" fill="#111"/>
<g transform="translate(499.05,563.60)"><text class="s" x="0" y="0" font-size="15.5" text-anchor="end" fill="#1e1e1e" font-family='"Liberation Serif", serif' transform="rotate(-45)">Treg</text></g>
<g transform="translate(548.05,563.70)"><text class="s" x="0" y="0" font-size="15.5" text-anchor="end" fill="#1e1e1e" font-family='"Liberation Serif", serif' transform="rotate(-45)">Th1</text></g>
<g transform="translate(606.50,566.40)"><text class="s" x="0" y="0" font-size="15.5" text-anchor="end" fill="#1e1e1e" font-family='"Liberation Serif", serif' transform="rotate(-45)">Th2</text></g>
<g transform="translate(661.95,566.65)"><text class="s" x="0" y="0" font-size="15.5" text-anchor="end" fill="#1e1e1e" font-family='"Liberation Serif", serif' transform="rotate(-45)">IL-2<tspan font-size="9.6" dx="1.0" dy="-5.9">+</tspan></text></g>
<g transform="translate(711.35,565.90)"><text class="s" x="0" y="0" font-size="15.5" text-anchor="end" fill="#1e1e1e" font-family='"Liberation Serif", serif' transform="rotate(-45)">Th17</text></g>
<g transform="translate(762.65,564.00)"><text class="s" x="0" y="0" font-size="15.5" text-anchor="end" fill="#1e1e1e" font-family='"Liberation Serif", serif' transform="rotate(-45)">Tfh</text></g>
<text x="3.90" y="634.70" font-size="26" text-anchor="start" fill="#000" font-family='"Liberation Sans", sans-serif' font-weight="bold">E</text>
<line x1="57.70" y1="645.40" x2="57.70" y2="845.60" stroke="#4d4d4d" stroke-width="1.3"/>
<line x1="52.20" y1="645.40" x2="57.70" y2="645.40" stroke="#4d4d4d" stroke-width="1.3"/>
<text class="s" x="48.00" y="649.80" font-size="16" text-anchor="end" fill="#1e1e1e" font-family='"Liberation Serif", serif' font-weight="normal">80</text>
<line x1="52.20" y1="695.45" x2="57.70" y2="695.45" stroke="#4d4d4d" stroke-width="1.3"/>
<text class="s" x="48.00" y="699.85" font-size="16" text-anchor="end" fill="#1e1e1e" font-family='"Liberation Serif", serif' font-weight="normal">60</text>
<line x1="52.20" y1="745.50" x2="57.70" y2="745.50" stroke="#4d4d4d" stroke-width="1.3"/>
<text class="s" x="48.00" y="749.90" font-size="16" text-anchor="end" fill="#1e1e1e" font-family='"Liberation Serif", serif' font-weight="normal">40</text>
<line x1="52.20" y1="795.55" x2="57.70" y2="795.55" stroke="#4d4d4d" stroke-width="1.3"/>
<text class="s" x="48.00" y="799.95" font-size="16" text-anchor="end" fill="#1e1e1e" font-family='"Liberation Serif", serif' font-weight="normal">20</text>
<line x1="52.20" y1="845.60" x2="57.70" y2="845.60" stroke="#4d4d4d" stroke-width="1.3"/>
<text class="s" x="48.00" y="850.00" font-size="16" text-anchor="end" fill="#1e1e1e" font-family='"Liberation Serif", serif' font-weight="normal">0</text>
<line x1="52.50" y1="845.60" x2="357.60" y2="845.60" stroke="#4d4d4d" stroke-width="1.3"/>
<line x1="78.70" y1="845.60" x2="78.70" y2="851.10" stroke="#4d4d4d" stroke-width="1.3"/>
<line x1="121.60" y1="845.60" x2="121.60" y2="851.10" stroke="#4d4d4d" stroke-width="1.3"/>
<line x1="164.50" y1="845.60" x2="164.50" y2="851.10" stroke="#4d4d4d" stroke-width="1.3"/>
<line x1="207.30" y1="845.60" x2="207.30" y2="851.10" stroke="#4d4d4d" stroke-width="1.3"/>
<line x1="250.10" y1="845.60" x2="250.10" y2="851.10" stroke="#4d4d4d" stroke-width="1.3"/>
<line x1="293.00" y1="845.60" x2="293.00" y2="851.10" stroke="#4d4d4d" stroke-width="1.3"/>
<line x1="336.00" y1="845.60" x2="336.00" y2="851.10" stroke="#4d4d4d" stroke-width="1.3"/>
<text class="s" x="15.00" y="744.30" font-size="16.4" text-anchor="middle" fill="#1e1e1e" font-family='"Liberation Serif", serif' transform="rotate(-90 15.00 744.30)">% of CD8<tspan font-size="10" dy="-6.5">+</tspan><tspan dy="6.5"> lymphocytes</tspan></text>
<circle cx="78.70" cy="708.70" r="3.9" fill="none" stroke="#111" stroke-width="1.2"/>
<circle cx="85.50" cy="707.50" r="3.9" fill="none" stroke="#111" stroke-width="1.2"/>
<circle cx="78.70" cy="738.90" r="3.9" fill="none" stroke="#111" stroke-width="1.2"/>
<circle cx="78.70" cy="757.30" r="3.9" fill="none" stroke="#111" stroke-width="1.2"/>
<circle cx="72.50" cy="772.40" r="3.9" fill="none" stroke="#111" stroke-width="1.2"/>
<circle cx="79.40" cy="772.90" r="3.9" fill="none" stroke="#111" stroke-width="1.2"/>
<circle cx="72.50" cy="779.30" r="3.9" fill="none" stroke="#111" stroke-width="1.2"/>
<circle cx="79.40" cy="780.90" r="3.9" fill="none" stroke="#111" stroke-width="1.2"/>
<circle cx="78.70" cy="785.90" r="3.9" fill="none" stroke="#111" stroke-width="1.2"/>
<circle cx="85.50" cy="785.00" r="3.9" fill="none" stroke="#111" stroke-width="1.2"/>
<line x1="78.70" y1="715.50" x2="78.70" y2="784.30" stroke="#3a3a3a" stroke-width="1.1475"/>
<line x1="71.20" y1="715.50" x2="86.20" y2="715.50" stroke="#111" stroke-width="1.35"/>
<line x1="71.20" y1="784.30" x2="86.20" y2="784.30" stroke="#111" stroke-width="1.35"/>
<line x1="64.40" y1="750.40" x2="93.00" y2="750.40" stroke="#111" stroke-width="1.35"/>
<circle cx="78.00" cy="698.80" r="7.0" fill="#111"/>
<circle cx="128.00" cy="690.30" r="3.9" fill="none" stroke="#111" stroke-width="1.2"/>
<circle cx="115.40" cy="700.60" r="3.9" fill="none" stroke="#111" stroke-width="1.2"/>
<circle cx="122.20" cy="701.80" r="3.9" fill="none" stroke="#111" stroke-width="1.2"/>
<circle cx="128.00" cy="734.30" r="3.9" fill="none" stroke="#111" stroke-width="1.2"/>
<circle cx="121.50" cy="743.70" r="3.9" fill="none" stroke="#111" stroke-width="1.2"/>
<circle cx="116.00" cy="761.40" r="3.9" fill="none" stroke="#111" stroke-width="1.2"/>
<circle cx="122.20" cy="767.60" r="3.9" fill="none" stroke="#111" stroke-width="1.2"/>
<circle cx="116.00" cy="770.60" r="3.9" fill="none" stroke="#111" stroke-width="1.2"/>
<circle cx="122.20" cy="780.20" r="3.9" fill="none" stroke="#111" stroke-width="1.2"/>
<circle cx="128.00" cy="779.70" r="3.9" fill="none" stroke="#111" stroke-width="1.2"/>
<line x1="121.60" y1="708.20" x2="121.60" y2="777.50" stroke="#3a3a3a" stroke-width="1.1475"/>
<line x1="114.10" y1="708.20" x2="129.10" y2="708.20" stroke="#111" stroke-width="1.35"/>
<line x1="114.10" y1="777.50" x2="129.10" y2="777.50" stroke="#111" stroke-width="1.35"/>
<line x1="107.30" y1="742.60" x2="135.90" y2="742.60" stroke="#111" stroke-width="1.35"/>
<circle cx="121.00" cy="694.80" r="7.0" fill="#111"/>
<circle cx="164.70" cy="742.40" r="3.9" fill="none" stroke="#111" stroke-width="1.2"/>
<circle cx="158.20" cy="771.00" r="3.9" fill="none" stroke="#111" stroke-width="1.2"/>
<circle cx="164.70" cy="779.00" r="3.9" fill="none" stroke="#111" stroke-width="1.2"/>
<circle cx="171.10" cy="778.10" r="3.9" fill="none" stroke="#111" stroke-width="1.2"/>
<circle cx="161.70" cy="790.10" r="3.9" fill="none" stroke="#111" stroke-width="1.2"/>
<circle cx="171.10" cy="791.20" r="3.9" fill="none" stroke="#111" stroke-width="1.2"/>
<circle cx="158.20" cy="795.80" r="3.9" fill="none" stroke="#111" stroke-width="1.2"/>
<circle cx="164.70" cy="796.50" r="3.9" fill="none" stroke="#111" stroke-width="1.2"/>
<circle cx="171.50" cy="803.80" r="3.9" fill="none" stroke="#111" stroke-width="1.2"/>
<line x1="164.50" y1="766.40" x2="164.50" y2="804.00" stroke="#3a3a3a" stroke-width="1.1475"/>
<line x1="157.00" y1="766.40" x2="172.00" y2="766.40" stroke="#111" stroke-width="1.35"/>
<line x1="157.00" y1="804.00" x2="172.00" y2="804.00" stroke="#111" stroke-width="1.35"/>
<line x1="150.20" y1="785.50" x2="178.80" y2="785.50" stroke="#111" stroke-width="1.35"/>
<circle cx="164.00" cy="806.10" r="7.0" fill="#111"/>
<circle cx="207.30" cy="721.30" r="3.9" fill="none" stroke="#111" stroke-width="1.2"/>
<circle cx="200.90" cy="733.90" r="3.9" fill="none" stroke="#111" stroke-width="1.2"/>
<circle cx="213.30" cy="738.00" r="3.9" fill="none" stroke="#111" stroke-width="1.2"/>
<circle cx="207.30" cy="745.40" r="3.9" fill="none" stroke="#111" stroke-width="1.2"/>
<circle cx="207.30" cy="760.30" r="3.9" fill="none" stroke="#111" stroke-width="1.2"/>
<circle cx="207.30" cy="773.60" r="3.9" fill="none" stroke="#111" stroke-width="1.2"/>
<circle cx="200.90" cy="796.90" r="3.9" fill="none" stroke="#111" stroke-width="1.2"/>
<circle cx="214.00" cy="798.10" r="3.9" fill="none" stroke="#111" stroke-width="1.2"/>
<circle cx="207.30" cy="807.30" r="3.9" fill="none" stroke="#111" stroke-width="1.2"/>
<line x1="207.30" y1="735.70" x2="207.30" y2="797.00" stroke="#3a3a3a" stroke-width="1.1475"/>
<line x1="199.80" y1="735.70" x2="214.80" y2="735.70" stroke="#111" stroke-width="1.35"/>
<line x1="199.80" y1="797.00" x2="214.80" y2="797.00" stroke="#111" stroke-width="1.35"/>
<line x1="193.00" y1="766.70" x2="221.60" y2="766.70" stroke="#111" stroke-width="1.35"/>
<circle cx="207.30" cy="795.80" r="7.0" fill="#111"/>
<circle cx="250.20" cy="829.80" r="3.9" fill="none" stroke="#111" stroke-width="1.2"/>
<circle cx="242.90" cy="841.80" r="3.9" fill="none" stroke="#111" stroke-width="1.2"/>
<circle cx="257.30" cy="841.80" r="3.9" fill="none" stroke="#111" stroke-width="1.2"/>
<circle cx="250.20" cy="843.00" r="3.9" fill="none" stroke="#111" stroke-width="1.2"/>
<circle cx="245.50" cy="838.50" r="3.9" fill="none" stroke="#111" stroke-width="1.2"/>
<circle cx="254.50" cy="838.50" r="3.9" fill="none" stroke="#111" stroke-width="1.2"/>
<circle cx="247.50" cy="843.50" r="3.9" fill="none" stroke="#111" stroke-width="1.2"/>
<circle cx="252.50" cy="843.50" r="3.9" fill="none" stroke="#111" stroke-width="1.2"/>
<line x1="250.10" y1="833.00" x2="250.10" y2="843.00" stroke="#3a3a3a" stroke-width="1.1475"/>
<line x1="242.60" y1="833.00" x2="257.60" y2="833.00" stroke="#111" stroke-width="1.35"/>
<line x1="242.60" y1="843.00" x2="257.60" y2="843.00" stroke="#111" stroke-width="1.35"/>
<line x1="235.80" y1="838.00" x2="264.40" y2="838.00" stroke="#111" stroke-width="1.35"/>
<circle cx="249.60" cy="837.40" r="7.0" fill="#111"/>
<circle cx="293.60" cy="746.20" r="3.9" fill="none" stroke="#111" stroke-width="1.2"/>
<circle cx="286.90" cy="756.80" r="3.9" fill="none" stroke="#111" stroke-width="1.2"/>
<circle cx="293.60" cy="761.10" r="3.9" fill="none" stroke="#111" stroke-width="1.2"/>
<circle cx="293.20" cy="786.40" r="3.9" fill="none" stroke="#111" stroke-width="1.2"/>
<circle cx="289.70" cy="790.80" r="3.9" fill="none" stroke="#111" stroke-width="1.2"/>
<circle cx="286.90" cy="796.90" r="3.9" fill="none" stroke="#111" stroke-width="1.2"/>
<circle cx="299.90" cy="795.90" r="3.9" fill="none" stroke="#111" stroke-width="1.2"/>
<circle cx="293.20" cy="799.70" r="3.9" fill="none" stroke="#111" stroke-width="1.2"/>
<circle cx="286.90" cy="806.10" r="3.9" fill="none" stroke="#111" stroke-width="1.2"/>
<circle cx="299.90" cy="809.30" r="3.9" fill="none" stroke="#111" stroke-width="1.2"/>
<circle cx="293.20" cy="814.10" r="3.9" fill="none" stroke="#111" stroke-width="1.2"/>
<line x1="293.00" y1="765.00" x2="293.00" y2="810.00" stroke="#3a3a3a" stroke-width="1.1475"/>
<line x1="285.50" y1="765.00" x2="300.50" y2="765.00" stroke="#111" stroke-width="1.35"/>
<line x1="285.50" y1="810.00" x2="300.50" y2="810.00" stroke="#111" stroke-width="1.35"/>
<line x1="278.70" y1="787.30" x2="307.30" y2="787.30" stroke="#111" stroke-width="1.35"/>
<circle cx="292.20" cy="825.50" r="7.0" fill="#111"/>
<circle cx="336.00" cy="827.30" r="3.9" fill="none" stroke="#111" stroke-width="1.2"/>
<circle cx="329.90" cy="840.80" r="3.9" fill="none" stroke="#111" stroke-width="1.2"/>
<circle cx="342.30" cy="840.80" r="3.9" fill="none" stroke="#111" stroke-width="1.2"/>
<circle cx="332.00" cy="844.00" r="3.9" fill="none" stroke="#111" stroke-width="1.2"/>
<circle cx="340.00" cy="844.00" r="3.9" fill="none" stroke="#111" stroke-width="1.2"/>
<circle cx="336.00" cy="845.50" r="3.9" fill="none" stroke="#111" stroke-width="1.2"/>
<circle cx="333.00" cy="837.50" r="3.9" fill="none" stroke="#111" stroke-width="1.2"/>
<circle cx="339.00" cy="837.50" r="3.9" fill="none" stroke="#111" stroke-width="1.2"/>
<line x1="336.00" y1="832.50" x2="336.00" y2="842.00" stroke="#3a3a3a" stroke-width="1.1475"/>
<line x1="328.50" y1="832.50" x2="343.50" y2="832.50" stroke="#111" stroke-width="1.35"/>
<line x1="328.50" y1="842.00" x2="343.50" y2="842.00" stroke="#111" stroke-width="1.35"/>
<line x1="321.70" y1="837.00" x2="350.30" y2="837.00" stroke="#111" stroke-width="1.35"/>
<circle cx="335.80" cy="841.30" r="7.0" fill="#111"/>
<g transform="translate(82.75,867.00)"><text class="s" x="0" y="0" font-size="16" text-anchor="end" fill="#1e1e1e" font-family='"Liberation Serif", serif' transform="rotate(-45)">RTE</text></g>
<g transform="translate(122.75,866.50)"><text class="s" x="0" y="0" font-size="16" text-anchor="end" fill="#1e1e1e" font-family='"Liberation Serif", serif' transform="rotate(-45)">Naive</text></g>
<g transform="translate(167.40,869.00)"><text class="s" x="0" y="0" font-size="16" text-anchor="end" fill="#1e1e1e" font-family='"Liberation Serif", serif' transform="rotate(-45)">TEM</text></g>
<g transform="translate(211.30,864.00)"><text class="s" x="0" y="0" font-size="16" text-anchor="end" fill="#1e1e1e" font-family='"Liberation Serif", serif' transform="rotate(-45)">TEMRA</text></g>
<g transform="translate(254.20,869.30)"><text class="s" x="0" y="0" font-size="16" text-anchor="end" fill="#1e1e1e" font-family='"Liberation Serif", serif' transform="rotate(-45)">TCM</text></g>
<g transform="translate(301.90,867.35)"><text class="s" x="0" y="0" font-size="16" text-anchor="end" fill="#1e1e1e" font-family='"Liberation Serif", serif' transform="rotate(-45)">IFN&#947;<tspan font-size="9.9" dx="1.0" dy="-6.1">+</tspan></text></g>
<g transform="translate(339.30,869.55)"><text class="s" x="0" y="0" font-size="16" text-anchor="end" fill="#1e1e1e" font-family='"Liberation Serif", serif' transform="rotate(-45)">IL-2<tspan font-size="9.9" dx="1.0" dy="-6.1">+</tspan></text></g>
<text x="398.40" y="634.60" font-size="26" text-anchor="start" fill="#000" font-family='"Liberation Sans", sans-serif' font-weight="bold">F</text>
<line x1="467.00" y1="645.00" x2="467.00" y2="756.10" stroke="#4d4d4d" stroke-width="1.3"/>
<line x1="461.50" y1="645.00" x2="467.00" y2="645.00" stroke="#4d4d4d" stroke-width="1.3"/>
<text class="s" x="455.20" y="650.60" font-size="16.5" text-anchor="end" fill="#1e1e1e" font-family='"Liberation Serif", serif' font-weight="normal">90</text>
<line x1="461.50" y1="689.50" x2="467.00" y2="689.50" stroke="#4d4d4d" stroke-width="1.3"/>
<text class="s" x="455.20" y="695.10" font-size="16.5" text-anchor="end" fill="#1e1e1e" font-family='"Liberation Serif", serif' font-weight="normal">80</text>
<line x1="461.50" y1="734.00" x2="467.00" y2="734.00" stroke="#4d4d4d" stroke-width="1.3"/>
<text class="s" x="455.20" y="739.60" font-size="16.5" text-anchor="end" fill="#1e1e1e" font-family='"Liberation Serif", serif' font-weight="normal">70</text>
<line x1="464.00" y1="756.10" x2="471.50" y2="756.10" stroke="#4d4d4d" stroke-width="1.3"/>
<line x1="467.00" y1="771.40" x2="467.00" y2="845.80" stroke="#4d4d4d" stroke-width="1.3"/>
<line x1="461.50" y1="771.40" x2="467.00" y2="771.40" stroke="#4d4d4d" stroke-width="1.3"/>
<text class="s" x="455.20" y="777.00" font-size="16.5" text-anchor="end" fill="#1e1e1e" font-family='"Liberation Serif", serif' font-weight="normal">15</text>
<line x1="461.50" y1="796.20" x2="467.00" y2="796.20" stroke="#4d4d4d" stroke-width="1.3"/>
<text class="s" x="455.20" y="801.80" font-size="16.5" text-anchor="end" fill="#1e1e1e" font-family='"Liberation Serif", serif' font-weight="normal">10</text>
<line x1="461.50" y1="821.00" x2="467.00" y2="821.00" stroke="#4d4d4d" stroke-width="1.3"/>
<text class="s" x="455.20" y="826.60" font-size="16.5" text-anchor="end" fill="#1e1e1e" font-family='"Liberation Serif", serif' font-weight="normal">5</text>
<line x1="461.50" y1="845.80" x2="467.00" y2="845.80" stroke="#4d4d4d" stroke-width="1.3"/>
<text class="s" x="455.20" y="851.40" font-size="16.5" text-anchor="end" fill="#1e1e1e" font-family='"Liberation Serif", serif' font-weight="normal">0</text>
<line x1="467.00" y1="771.40" x2="471.50" y2="771.40" stroke="#4d4d4d" stroke-width="1.3"/>
<line x1="461.40" y1="845.80" x2="768.10" y2="845.80" stroke="#4d4d4d" stroke-width="1.3"/>
<line x1="504.70" y1="845.80" x2="504.70" y2="851.30" stroke="#4d4d4d" stroke-width="1.3"/>
<line x1="579.70" y1="845.80" x2="579.70" y2="851.30" stroke="#4d4d4d" stroke-width="1.3"/>
<line x1="654.60" y1="845.80" x2="654.60" y2="851.30" stroke="#4d4d4d" stroke-width="1.3"/>
<line x1="730.50" y1="845.80" x2="730.50" y2="851.30" stroke="#4d4d4d" stroke-width="1.3"/>
<text class="s" x="420.40" y="751.80" font-size="16.4" text-anchor="middle" fill="#1e1e1e" font-family='"Liberation Serif", serif' transform="rotate(-90 420.40 751.80)">% of CD19<tspan font-size="10" dy="-6.5">+</tspan><tspan dy="6.5"> lymphocytes</tspan></text>
<circle cx="492.20" cy="805.30" r="3.9" fill="none" stroke="#111" stroke-width="1.2"/>
<circle cx="504.70" cy="810.10" r="3.9" fill="none" stroke="#111" stroke-width="1.2"/>
<circle cx="517.20" cy="809.40" r="3.9" fill="none" stroke="#111" stroke-width="1.2"/>
<circle cx="517.20" cy="812.80" r="3.9" fill="none" stroke="#111" stroke-width="1.2"/>
<circle cx="492.80" cy="823.10" r="3.9" fill="none" stroke="#111" stroke-width="1.2"/>
<circle cx="498.80" cy="824.90" r="3.9" fill="none" stroke="#111" stroke-width="1.2"/>
<circle cx="504.70" cy="824.50" r="3.9" fill="none" stroke="#111" stroke-width="1.2"/>
<circle cx="510.60" cy="825.30" r="3.9" fill="none" stroke="#111" stroke-width="1.2"/>
<circle cx="492.80" cy="829.40" r="3.9" fill="none" stroke="#111" stroke-width="1.2"/>
<circle cx="517.20" cy="833.30" r="3.9" fill="none" stroke="#111" stroke-width="1.2"/>
<circle cx="504.70" cy="837.00" r="3.9" fill="none" stroke="#111" stroke-width="1.2"/>
<line x1="504.70" y1="810.60" x2="504.70" y2="831.70" stroke="#3a3a3a" stroke-width="1.1475"/>
<line x1="492.40" y1="810.60" x2="517.00" y2="810.60" stroke="#111" stroke-width="1.35"/>
<line x1="492.40" y1="831.70" x2="517.00" y2="831.70" stroke="#111" stroke-width="1.35"/>
<line x1="479.70" y1="821.30" x2="529.70" y2="821.30" stroke="#111" stroke-width="1.35"/>
<circle cx="504.70" cy="785.70" r="7.6" fill="#111"/>
<circle cx="592.20" cy="681.60" r="3.9" fill="none" stroke="#111" stroke-width="1.2"/>
<circle cx="579.70" cy="692.70" r="3.9" fill="none" stroke="#111" stroke-width="1.2"/>
<circle cx="561.80" cy="698.40" r="3.9" fill="none" stroke="#111" stroke-width="1.2"/>
<circle cx="586.00" cy="699.30" r="3.9" fill="none" stroke="#111" stroke-width="1.2"/>
<circle cx="574.00" cy="702.60" r="3.9" fill="none" stroke="#111" stroke-width="1.2"/>
<circle cx="567.60" cy="705.70" r="3.9" fill="none" stroke="#111" stroke-width="1.2"/>
<circle cx="592.00" cy="705.00" r="3.9" fill="none" stroke="#111" stroke-width="1.2"/>
<circle cx="579.70" cy="710.10" r="3.9" fill="none" stroke="#111" stroke-width="1.2"/>
<circle cx="592.00" cy="733.10" r="3.9" fill="none" stroke="#111" stroke-width="1.2"/>
<circle cx="579.90" cy="739.20" r="3.9" fill="none" stroke="#111" stroke-width="1.2"/>
<line x1="579.70" y1="683.40" x2="579.70" y2="723.50" stroke="#3a3a3a" stroke-width="1.1475"/>
<line x1="567.40" y1="683.40" x2="592.00" y2="683.40" stroke="#111" stroke-width="1.35"/>
<line x1="567.40" y1="723.50" x2="592.00" y2="723.50" stroke="#111" stroke-width="1.35"/>
<line x1="554.70" y1="703.20" x2="604.70" y2="703.20" stroke="#111" stroke-width="1.35"/>
<circle cx="579.40" cy="669.10" r="7.6" fill="#111"/>
<circle cx="643.20" cy="822.60" r="3.9" fill="none" stroke="#111" stroke-width="1.2"/>
<circle cx="655.00" cy="824.00" r="3.9" fill="none" stroke="#111" stroke-width="1.2"/>
<circle cx="637.10" cy="832.20" r="3.9" fill="none" stroke="#111" stroke-width="1.2"/>
<circle cx="673.40" cy="832.80" r="3.9" fill="none" stroke="#111" stroke-width="1.2"/>
<circle cx="643.20" cy="836.20" r="3.9" fill="none" stroke="#111" stroke-width="1.2"/>
<circle cx="667.30" cy="836.20" r="3.9" fill="none" stroke="#111" stroke-width="1.2"/>
<circle cx="649.00" cy="830.00" r="3.9" fill="none" stroke="#111" stroke-width="1.2"/>
<circle cx="661.00" cy="829.50" r="3.9" fill="none" stroke="#111" stroke-width="1.2"/>
<line x1="654.60" y1="827.00" x2="654.60" y2="836.00" stroke="#3a3a3a" stroke-width="1.1475"/>
<line x1="642.30" y1="827.00" x2="666.90" y2="827.00" stroke="#111" stroke-width="1.35"/>
<line x1="642.30" y1="836.00" x2="666.90" y2="836.00" stroke="#111" stroke-width="1.35"/>
<line x1="629.60" y1="831.60" x2="679.60" y2="831.60" stroke="#111" stroke-width="1.35"/>
<circle cx="654.60" cy="835.60" r="7.6" fill="#111"/>
<circle cx="730.90" cy="785.90" r="3.9" fill="none" stroke="#111" stroke-width="1.2"/>
<circle cx="730.90" cy="799.60" r="3.9" fill="none" stroke="#111" stroke-width="1.2"/>
<circle cx="718.20" cy="806.70" r="3.9" fill="none" stroke="#111" stroke-width="1.2"/>
<circle cx="724.30" cy="805.70" r="3.9" fill="none" stroke="#111" stroke-width="1.2"/>
<circle cx="742.70" cy="806.30" r="3.9" fill="none" stroke="#111" stroke-width="1.2"/>
<circle cx="724.70" cy="812.80" r="3.9" fill="none" stroke="#111" stroke-width="1.2"/>
<circle cx="730.50" cy="813.20" r="3.9" fill="none" stroke="#111" stroke-width="1.2"/>
<circle cx="737.00" cy="813.40" r="3.9" fill="none" stroke="#111" stroke-width="1.2"/>
<circle cx="718.20" cy="818.30" r="3.9" fill="none" stroke="#111" stroke-width="1.2"/>
<circle cx="742.70" cy="820.30" r="3.9" fill="none" stroke="#111" stroke-width="1.2"/>
<line x1="730.50" y1="799.10" x2="730.50" y2="819.50" stroke="#3a3a3a" stroke-width="1.1475"/>
<line x1="718.20" y1="799.10" x2="742.80" y2="799.10" stroke="#111" stroke-width="1.35"/>
<line x1="718.20" y1="819.50" x2="742.80" y2="819.50" stroke="#111" stroke-width="1.35"/>
<line x1="705.50" y1="809.30" x2="755.50" y2="809.30" stroke="#111" stroke-width="1.35"/>
<circle cx="729.00" cy="823.60" r="7.6" fill="#111"/>
<text class="s" x="453.90" y="869.20" font-size="15.5" text-anchor="start" fill="#1e1e1e" font-family='"Liberation Serif", serif' font-weight="normal">Transitional</text>
<text class="s" x="550.10" y="869.20" font-size="15.5" text-anchor="start" fill="#1e1e1e" font-family='"Liberation Serif", serif' font-weight="normal">Naive</text>
<text class="s" x="710.30" y="869.20" font-size="15.5" text-anchor="start" fill="#1e1e1e" font-family='"Liberation Serif", serif' font-weight="normal">Switched</text>
<text class="s" x="601.60" y="869.20" font-size="15.5" text-anchor="start" fill="#1e1e1e" font-family='"Liberation Serif", serif' font-weight="normal" letter-spacing="0.4">IgM Memory</text>
<text class="s" x="714.70" y="890.30" font-size="15.5" text-anchor="start" fill="#1e1e1e" font-family='"Liberation Serif", serif' font-weight="normal">memory</text>
</svg></body></html>
